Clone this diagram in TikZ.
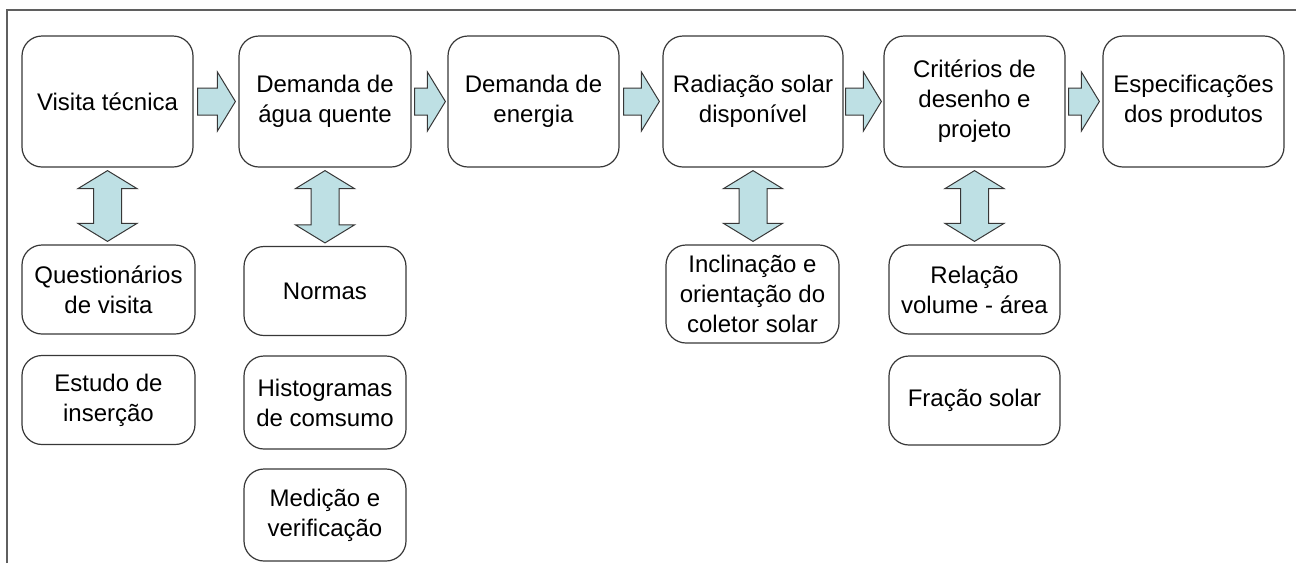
\documentclass[tikz,border=0pt]{standalone}
\usepackage{fontspec}
\setmainfont{Liberation Sans}
\usetikzlibrary{calc}
\definecolor{arrowfill}{RGB}{190,224,228}
\definecolor{linegray}{RGB}{55,55,55}

\begin{document}
\begin{tikzpicture}[x=.5pt,y=-.5pt,line join=miter,
  stage/.style={draw=linegray,line width=.6pt,rounded corners=10pt,
    align=center,inner sep=2pt,font=\fontsize{12}{15}\selectfont,
    minimum width=86pt,minimum height=65.5pt},
  item/.style={stage,minimum height=44.5pt},
  frame/.style={draw=linegray!80,line width=.8pt},
  rarrow/.style={draw=linegray,line width=.5pt,fill=arrowfill,to path={
    ($(\tikztostart)+(0,13.5)$) -- ($(\tikztotarget)+(-18,13.5)$)
    -- ($(\tikztotarget)+(-18,29.5)$) -- (\tikztotarget)
    -- ($(\tikztotarget)+(-18,-29.5)$) -- ($(\tikztotarget)+(-18,-13.5)$)
    -- ($(\tikztostart)+(0,-13.5)$) -- cycle}},
  darrow/.style={draw=linegray,line width=.5pt,fill=arrowfill,to path={
    (\tikztostart) -- ($(\tikztostart)+(29.5,18)$) -- ($(\tikztostart)+(14,18)$)
    -- ($(\tikztotarget)+(14,-18)$) -- ($(\tikztotarget)+(29.5,-18)$)
    -- (\tikztotarget) -- ($(\tikztotarget)+(-29.5,-18)$)
    -- ($(\tikztotarget)+(-14,-18)$) -- ($(\tikztostart)+(-14,18)$)
    -- ($(\tikztostart)+(-29.5,18)$) -- cycle}}]

\useasboundingbox (0,0) rectangle (1296,563);
\draw[frame] (7,563) -- (7,10) -- (1296,10);

% main chain of stages
\node[stage,minimum width=85.5pt] (vis) at (107.5,101.5) {Visita técnica};
\node[stage] (dag) at (325,101.5) {Demanda de\\água quente};
\node[stage,minimum width=85.5pt] (den) at (533.5,101.5) {Demanda de\\energia};
\node[stage,minimum width=90pt] (rad) at (753,101.5) {Radiação solar\\disponível};
\node[stage,minimum width=90.5pt] (cri) at (974.5,101.5) {Critérios de\\desenho e\\projeto};
\node[stage,minimum width=90.5pt] (esp) at (1193.5,101.5) {Especificações\\dos produtos};

% supporting items below
\node[item,minimum width=86.5pt] (qst) at (108.5,289.5) {Questionários\\de visita};
\node[item,minimum width=86.5pt] (est) at (108.5,400) {Estudo de\\inserção};
\node[item,minimum width=81pt] (nor) at (325,291) {Normas};
\node[item,minimum width=81pt,minimum height=46.5pt] (his) at (325,402.5) {Histogramas\\de comsumo};
\node[item,minimum width=81pt,minimum height=46pt] (med) at (325,515) {Medição e\\verificação};
\node[item,minimum width=86.5pt,minimum height=49pt] (inc) at (752.5,294) {Inclinação e\\orientação do\\coletor solar};
\node[item,minimum width=85.5pt] (rel) at (974.5,289.5) {Relação\\volume - área};
\node[item,minimum width=85.5pt] (fra) at (974.5,400.5) {Fração solar};

% flow arrows
\draw[rarrow] ($(vis.east)+(4,0)$) to ($(dag.west)+(-3,0)$);
\draw[rarrow] ($(dag.east)+(3,0)$) to ($(den.west)+(-2,0)$);
\draw[rarrow] ($(den.east)+(4,0)$) to ($(rad.west)+(-3,0)$);
\draw[rarrow] ($(rad.east)+(2,0)$) to ($(cri.west)+(-2,0)$);
\draw[rarrow] ($(cri.east)+(3,0)$) to ($(esp.west)+(-3,0)$);

% exchange arrows
\draw[darrow] ($(vis.south)+(0,3)$) to ($(vis.south |- qst.north)+(0,-3)$);
\draw[darrow] ($(dag.south)+(0,3)$) to ($(dag.south |- nor.north)+(0,-3)$);
\draw[darrow] ($(rad.south)+(0,3)$) to ($(rad.south |- inc.north)+(0,-3)$);
\draw[darrow] ($(cri.south)+(0,3)$) to ($(cri.south |- rel.north)+(0,-3)$);
\end{tikzpicture}
\end{document}
